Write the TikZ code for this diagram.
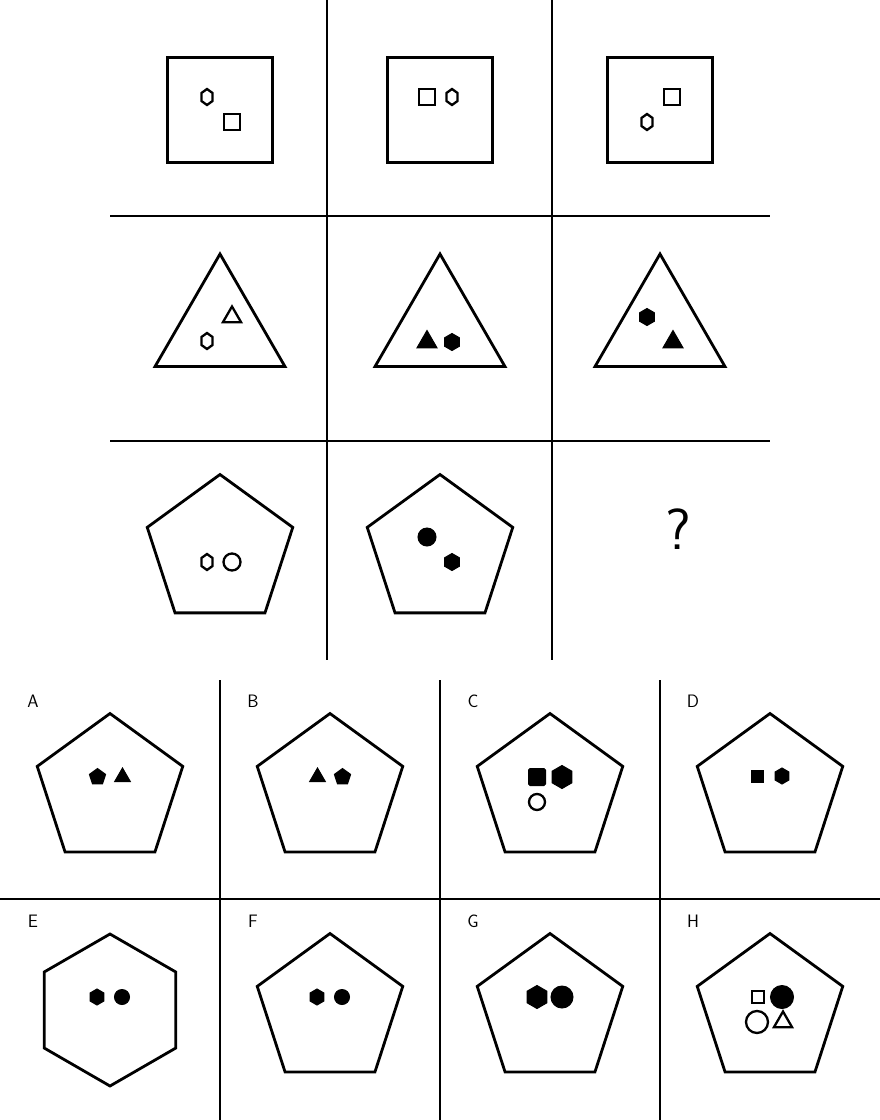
\documentclass[tikz,border=0pt]{standalone}
\usetikzlibrary{shapes.geometric}
\tikzset{
  outline/.style={draw=black, line width=2.8pt, fill=white, inner sep=0pt, outer sep=0pt},
  bigsq/.style={outline, rectangle, minimum size=105pt},
  bigtri/.style={outline, regular polygon, regular polygon sides=3, minimum size=150pt},
  bigpent/.style={outline, regular polygon, regular polygon sides=5, minimum size=153pt},
  bighex/.style={outline, regular polygon, regular polygon sides=6, shape border rotate=30, minimum size=152pt},
  hol/.style={draw=black, fill=white, line width=2.3pt, inner sep=0pt, outer sep=0pt},
  sol/.style={draw=black, fill=black, line width=1pt, inner sep=0pt, outer sep=0pt},
  hexa/.style={regular polygon, regular polygon sides=6, shape border rotate=30, minimum size=16pt},
  quad/.style={rectangle, minimum size=16pt},
  tri/.style={regular polygon, regular polygon sides=3, minimum size=21pt},
  pent/.style={regular polygon, regular polygon sides=5, minimum size=18pt},
  ring/.style={circle, minimum size=17pt},
  divider/.style={draw=black, line width=1.5pt},
  letter/.style={font=\sffamily\fontsize{18}{18}\selectfont, inner sep=0pt}
}
\begin{document}
\begin{tikzpicture}[x=1pt,y=-1pt]
\useasboundingbox (0,0) rectangle (880,1120);
% matrix of the puzzle
\draw[divider] (327,0) -- (327,660);
\draw[divider] (552,0) -- (552,660);
\draw[divider] (110,216) -- (770,216);
\draw[divider] (110,441) -- (770,441);
% row 1
\node[bigsq] (sq1) at (220,110) {};
\node[hol,hexa,xscale=0.8] (sq1h) at (207,97) {};
\node[hol,quad] (sq1q) at (232,122) {};
\node[bigsq] (sq2) at (440,110) {};
\node[hol,quad] (sq2q) at (427,97) {};
\node[hol,hexa,xscale=0.8] (sq2h) at (452,97) {};
\node[bigsq] (sq3) at (660,110) {};
\node[hol,quad] (sq3q) at (672,97) {};
\node[hol,hexa,xscale=0.8] (sq3h) at (647,122) {};
% row 2
\node[bigtri] (tr1) at (220,329) {};
\node[hol,tri] (tr1t) at (232,317) {};
\node[hol,hexa,xscale=0.8] (tr1h) at (207,341) {};
\node[bigtri] (tr2) at (440,329) {};
\node[sol,tri,minimum size=23pt] (tr2t) at (427,342) {};
\node[sol,hexa,minimum size=17pt] (tr2h) at (452,342) {};
\node[bigtri] (tr3) at (660,329) {};
\node[sol,hexa,minimum size=17pt] (tr3h) at (647,317) {};
\node[sol,tri,minimum size=23pt] (tr3t) at (673,342) {};
% row 3
\node[bigpent] (pe1) at (220,551) {};
\node[hol,hexa,xscale=0.8] (pe1h) at (207,562) {};
\node[hol,ring] (pe1c) at (232,562) {};
\node[bigpent] (pe2) at (440,551) {};
\node[sol,ring,minimum size=18pt] (pe2c) at (427,537) {};
\node[sol,hexa,minimum size=17pt] (pe2h) at (452,562) {};
\node[font=\sffamily\fontsize{58}{58}\selectfont] (qm) at (678,529) {?};
% answer choices
\draw[divider] (0,899) -- (880,899);
\draw[divider] (220,680) -- (220,1120);
\draw[divider] (440,680) -- (440,1120);
\draw[divider] (660,680) -- (660,1120);
\node[letter] (la) at (33,701) {A};
\node[bigpent] (oa) at (110,790) {};
\node[sol,pent,minimum size=17pt] (oap) at (97.5,777) {};
\node[sol,tri,minimum size=18pt] (oat) at (122.5,777) {};
\node[letter] (lb) at (253,701) {B};
\node[bigpent] (ob) at (330,790) {};
\node[sol,tri,minimum size=18pt] (obt) at (317.5,777) {};
\node[sol,pent,minimum size=17pt] (obp) at (342.5,777) {};
\node[letter] (lc) at (473,701) {C};
\node[bigpent] (oc) at (550,790) {};
\node[sol,quad,minimum size=17pt,rounded corners=1.5pt] (ocq) at (537,777) {};
\node[sol,hexa,minimum size=23pt] (och) at (562,777) {};
\node[hol,ring,minimum size=16pt] (occ) at (537,802) {};
\node[letter] (ld) at (693,701) {D};
\node[bigpent] (od) at (770,790) {};
\node[sol,quad,minimum size=12pt] (odq) at (757,776) {};
\node[sol,hexa,minimum size=16pt] (odh) at (782,776) {};
\node[letter] (le) at (33,921) {E};
\node[bighex] (oe) at (110,1010) {};
\node[sol,hexa,minimum size=16pt] (oeh) at (97,997) {};
\node[sol,ring,minimum size=15pt] (oec) at (122,997) {};
\node[letter] (lf) at (253,921) {F};
\node[bigpent] (of) at (330,1010) {};
\node[sol,hexa,minimum size=16pt] (ofh) at (317,997) {};
\node[sol,ring,minimum size=15pt] (ofc) at (342,997) {};
\node[letter] (lg) at (473,921) {G};
\node[bigpent] (og) at (550,1010) {};
\node[sol,hexa,minimum size=23pt] (ogh) at (537,997) {};
\node[sol,ring,minimum size=22pt] (ogc) at (562,997) {};
\node[letter] (lh) at (693,921) {H};
\node[bigpent] (oh) at (770,1010) {};
\node[hol,quad,minimum size=12pt] (ohq) at (758,997) {};
\node[sol,ring,minimum size=23pt] (ohc) at (782,997) {};
\node[hol,ring,minimum size=22pt] (oho) at (757,1022) {};
\node[hol,tri,minimum size=21pt] (oht) at (783,1022) {};
\end{tikzpicture}
\end{document}
